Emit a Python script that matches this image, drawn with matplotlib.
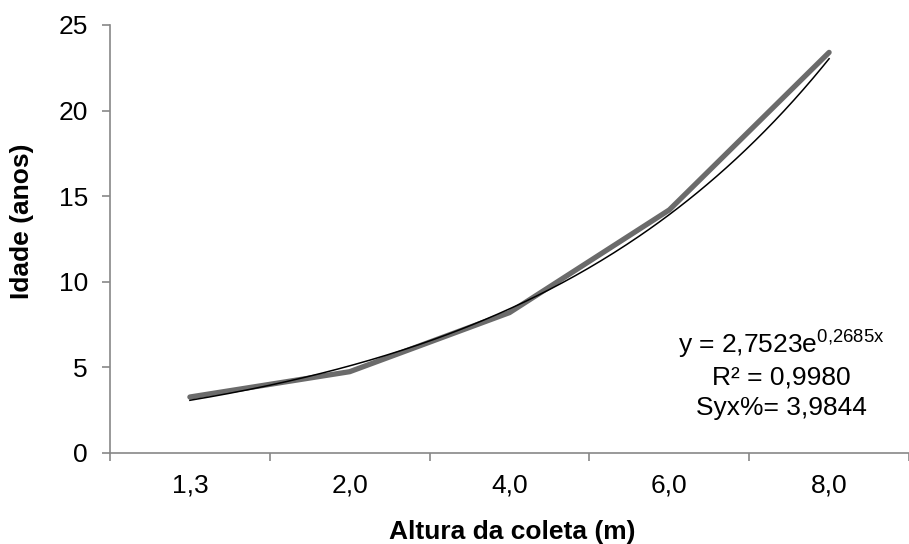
import numpy as np
import matplotlib
matplotlib.use("Agg")
import matplotlib.pyplot as plt

# dados
alturas = ["1,3", "2,0", "4,0", "6,0", "8,0"]
idade = [3.27, 4.75, 8.2, 14.2, 23.4]
y_ticks = [0, 5, 10, 15, 20, 25]
eq_lines = ["y = 2,7523e$^{\\mathregular{0{,}2685x}}$", "R² = 0,9980", "Syx%= 3,9844"]

plt.rcParams['font.family'] = ['Liberation Sans', 'DejaVu Sans']
plt.rcParams['mathtext.fontset'] = 'custom'
plt.rcParams['mathtext.rm'] = 'Liberation Sans'

fig = plt.figure(figsize=(9.09, 5.44), dpi=100)
ax = fig.add_axes([110 / 909, 91 / 544, 799 / 909, 428 / 544])

x = np.arange(1, len(alturas) + 1)

# linha de tendencia exponencial ajustada aos dados
coef = np.polyfit(x, np.log(idade), 1)
xs = np.linspace(1, len(alturas), 200)
ax.plot(x, idade, color='#6b6b6b', lw=3.8, solid_capstyle='round', zorder=2)
ax.plot(xs, np.exp(coef[1]) * np.exp(coef[0] * xs), color='black', lw=1.1, zorder=3)

ax.set_xlim(0.5, 0.5 + 799 / 161.3)
ax.set_ylim(0, 25)
ax.set_yticks(y_ticks)
ax.set_xticks(x)
ax.set_xticklabels(alturas)
ax.set_xticks(np.arange(0.5, len(alturas) + 1, 1), minor=True)

for s in ['top', 'right']:
    ax.spines[s].set_visible(False)
for s in ['left', 'bottom']:
    ax.spines[s].set_color('#878787')
    ax.spines[s].set_linewidth(1.2)

fs = 19
ax.tick_params(axis='y', direction='out', length=6, width=1.2, color='#878787',
               labelsize=fs, pad=10)
ax.tick_params(axis='x', which='major', length=0, labelsize=fs, pad=15)
ax.tick_params(axis='x', which='minor', direction='out', length=6, width=1.2,
               color='#878787')

ax.set_ylabel('Idade (anos)', fontsize=fs, fontweight='bold')
ax.set_xlabel('Altura da coleta (m)', fontsize=fs, fontweight='bold')
ax.yaxis.set_label_coords(-0.110, 0.541)
ax.xaxis.set_label_coords(0.504, -0.1846)
ax.xaxis.label.set_va('center')
ax.yaxis.label.set_va('center')

for txt, yb in zip(eq_lines, [5.84, 4.03, 2.22]):
    ax.text(4.70, yb, txt, ha='center', va='baseline', fontsize=fs)

fig.savefig('out.png', dpi=100)
